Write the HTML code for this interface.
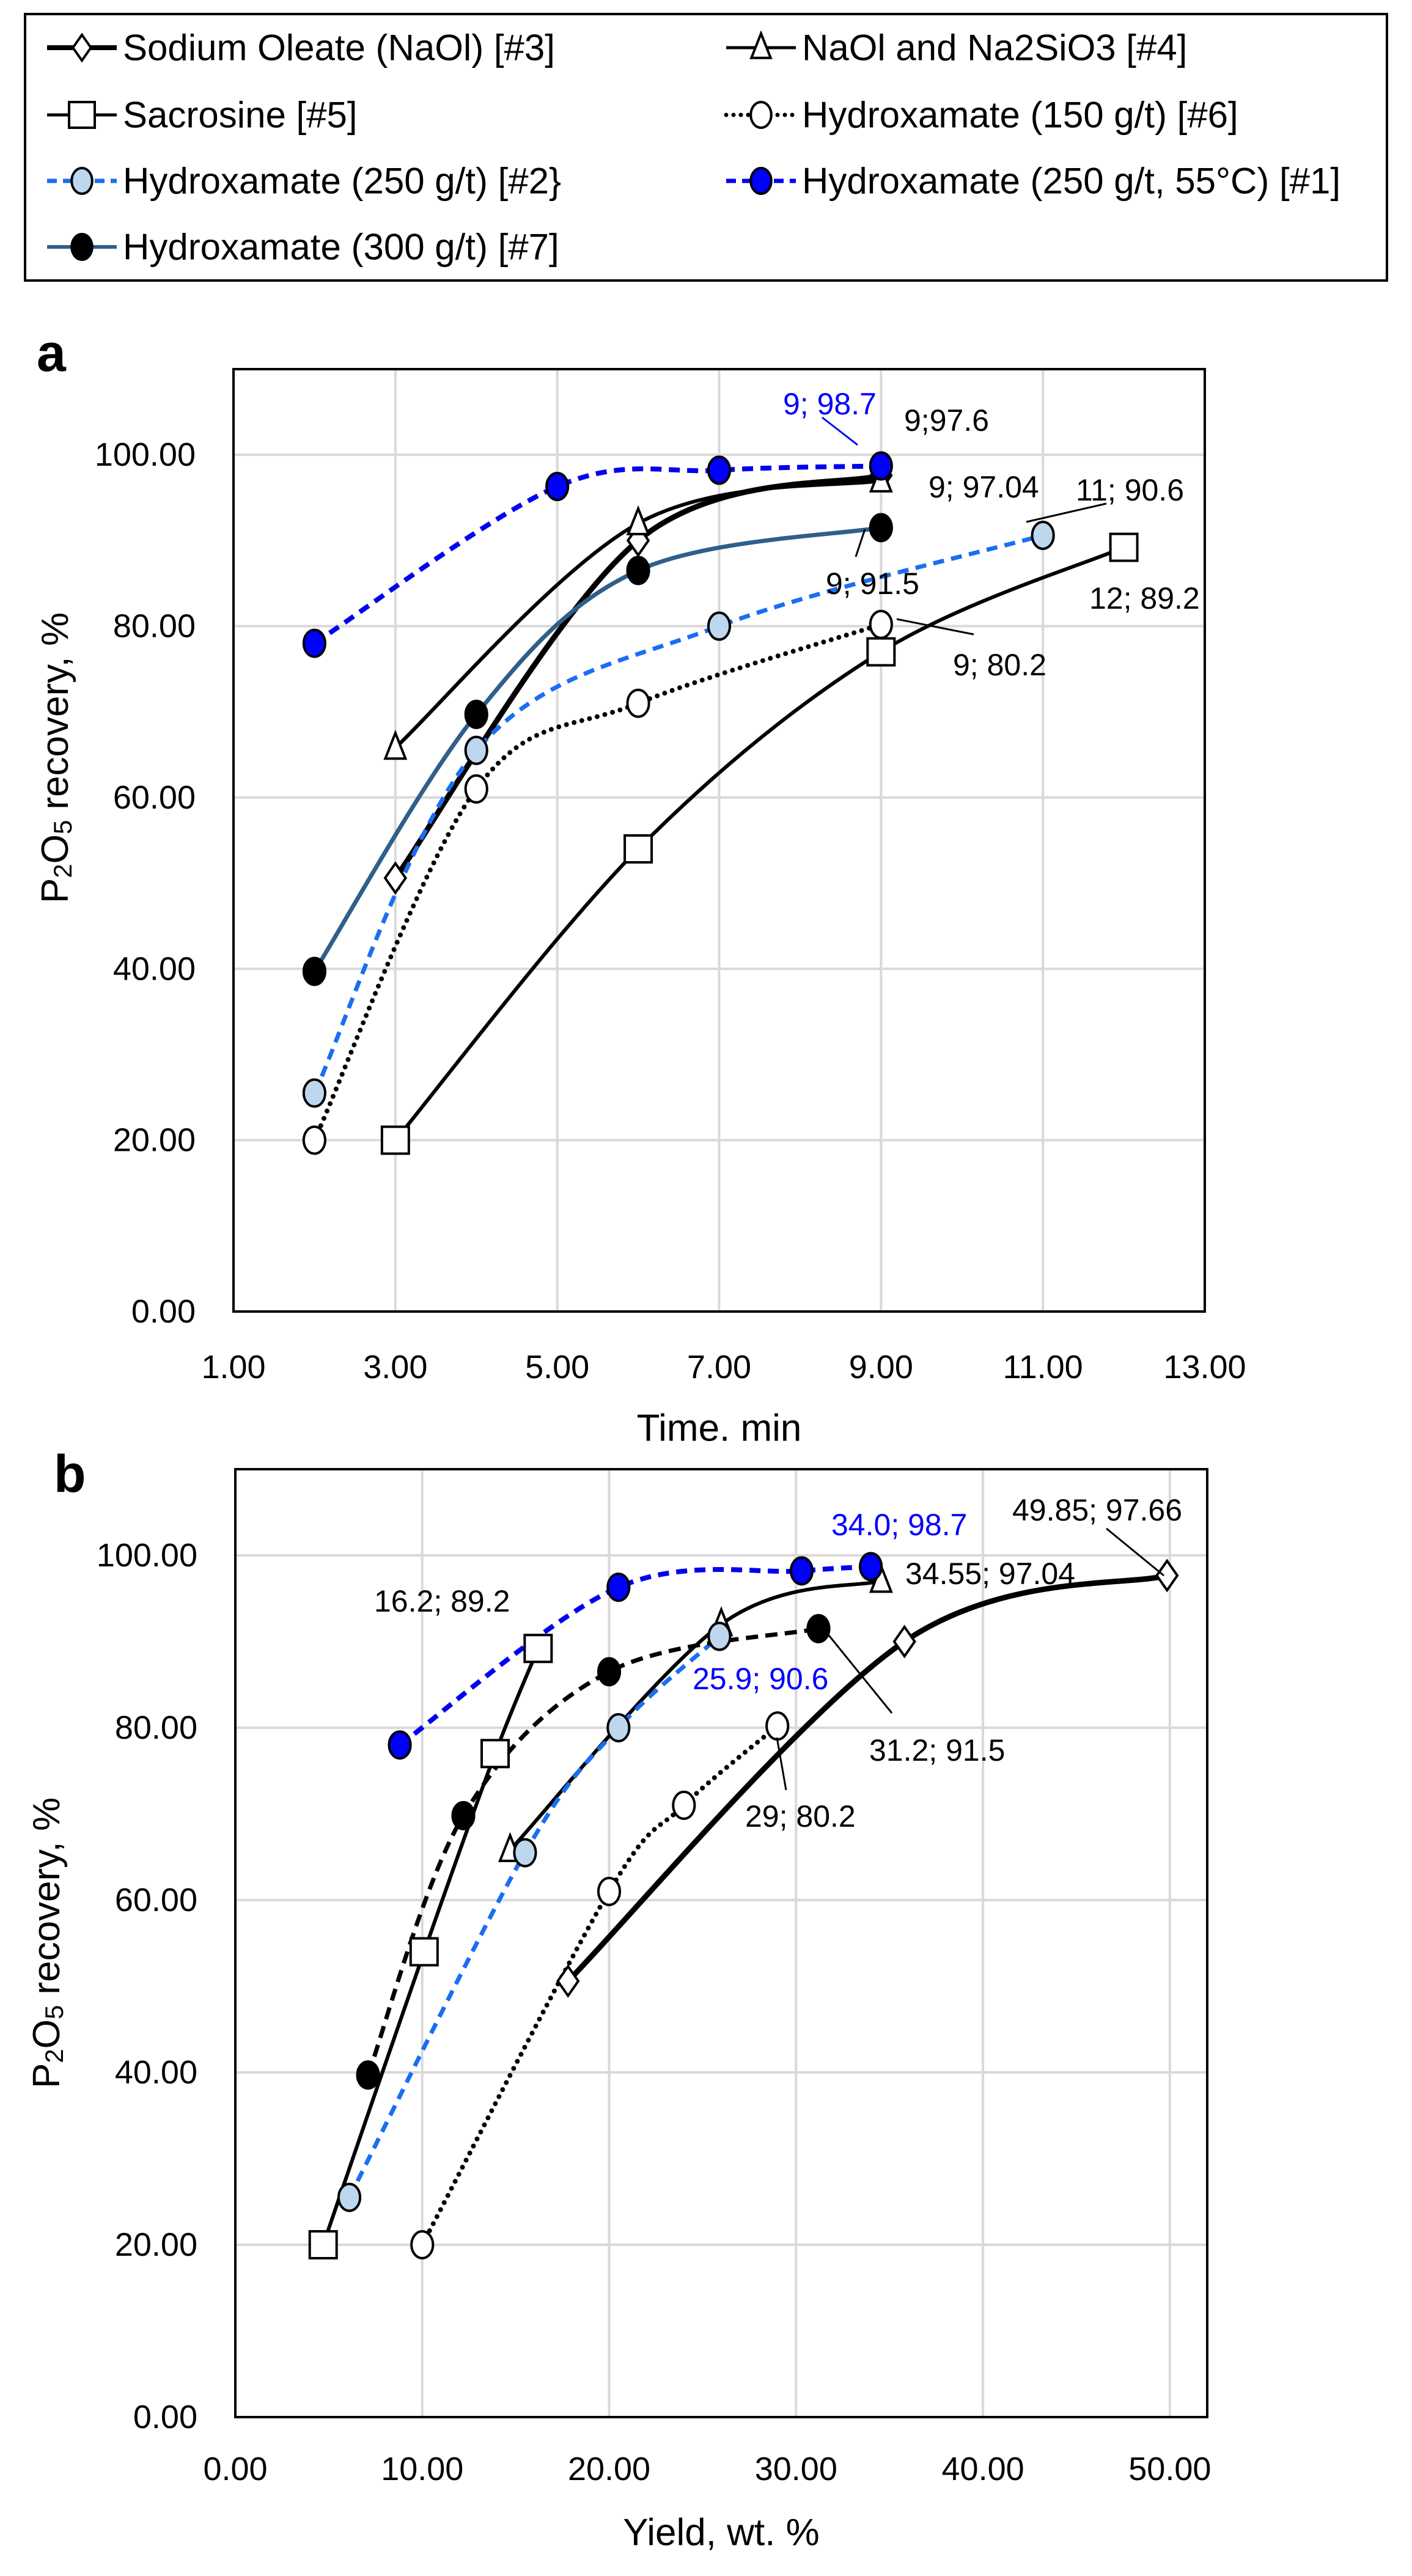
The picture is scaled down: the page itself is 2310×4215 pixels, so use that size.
<!DOCTYPE html>
<html><head><meta charset="utf-8"><style>
html,body{margin:0;padding:0;background:#fff;}
svg{display:block;font-family:"Liberation Sans",Arial,sans-serif;}
</style></head><body>
<svg id="root" width="2310" height="4215" viewBox="0 0 2310 4215" xmlns="http://www.w3.org/2000/svg">
<g id="legend">
<rect x="41" y="23" width="2228" height="436" fill="#fff" stroke="#000" stroke-width="4"/>
</g>
<g id="chartA"></g>
<g id="chartB"></g>
</svg>
<script>
// ---- Chart a data (time, min) ----
const aX3 = [3, 6, 9];            const aY3 = [50.6, 90.0, 97.6];
const aX4 = [3, 6, 9];            const aY4 = [65.8, 92.0, 97.0];
const aX5 = [3, 6, 9, 12];        const aY5 = [20.0, 54.0, 77.0, 89.2];
const aX6 = [2, 4, 6, 9];         const aY6 = [20.0, 61.0, 71.0, 80.2];
const aX2 = [2, 4, 7, 11];        const aY2 = [25.5, 65.5, 80.0, 90.6];
const aX1 = [2, 5, 7, 9];         const aY1 = [78.0, 96.3, 98.2, 98.7];
const aX7 = [2, 4, 6, 9];         const aY7 = [39.7, 69.7, 86.5, 91.5];
const aXTicks = [1, 3, 5, 7, 9, 11, 13];
const aXTickLabels = ["1.00","3.00","5.00","7.00","9.00","11.00","13.00"];
const yTicks = [0, 20, 40, 60, 80, 100];
const yTickLabels = ["0.00","20.00","40.00","60.00","80.00","100.00"];
// ---- Chart b data (yield, wt.%) ----
const bX1 = [8.8, 20.5, 30.3, 34.0];   const bY1 = [78.0, 96.3, 98.2, 98.7];
const bX7 = [7.1, 12.2, 20.0, 31.2];   const bY7 = [39.7, 69.8, 86.5, 91.5];
const bX5 = [4.7, 10.1, 13.9, 16.2];   const bY5 = [20.0, 54.0, 77.0, 89.2];
const bX2 = [6.1, 15.5, 20.5, 25.9];   const bY2 = [25.5, 65.5, 80.0, 90.6];
const bX4 = [14.7, 26.0, 34.55];       const bY4 = [65.8, 92.0, 97.04];
const bX6 = [10.0, 20.0, 24.0, 29.0];  const bY6 = [20.0, 61.0, 71.0, 80.2];
const bX3 = [17.8, 35.8, 49.85];       const bY3 = [50.6, 90.0, 97.66];
const bXTicks = [0, 10, 20, 30, 40, 50];
const bXTickLabels = ["0.00","10.00","20.00","30.00","40.00","50.00"];

const NS = "http://www.w3.org/2000/svg";
function mk(parent, tag, attrs){
  const e = document.createElementNS(NS, tag);
  for (const k in attrs) e.setAttribute(k, attrs[k]);
  parent.appendChild(e); return e;
}
function smoothPath(pts){
  if (pts.length < 2) return "";
  let d = "M" + pts[0][0] + "," + pts[0][1];
  for (let i = 0; i < pts.length - 1; i++){
    const p0 = pts[Math.max(i-1,0)], p1 = pts[i], p2 = pts[i+1], p3 = pts[Math.min(i+2,pts.length-1)];
    const t = 1/6;
    const c1 = [p1[0] + (p2[0]-p0[0])*t, p1[1] + (p2[1]-p0[1])*t];
    const c2 = [p2[0] - (p3[0]-p1[0])*t, p2[1] - (p3[1]-p1[1])*t];
    d += " C" + c1[0] + "," + c1[1] + " " + c2[0] + "," + c2[1] + " " + p2[0] + "," + p2[1];
  }
  return d;
}
function marker(g, type, x, y, fill, r){
  let e;
  if (type === "circle") e = mk(g, "ellipse", {cx:x, cy:y, rx:r*0.8, ry:r, fill:fill, stroke:"#000", "stroke-width":4});
  else if (type === "square") e = mk(g, "rect", {x:x-r, y:y-r, width:2*r, height:2*r, fill:"#fff", stroke:"#000", "stroke-width":4});
  else if (type === "diamond") e = mk(g, "polygon", {points:`${x},${y-r} ${x+r*0.7},${y} ${x},${y+r} ${x-r*0.7},${y}`, fill:"#fff", stroke:"#000", "stroke-width":4});
  else e = mk(g, "polygon", {points:`${x},${y-r*1.1} ${x+r*0.75},${y+r*0.8} ${x-r*0.75},${y+r*0.8}`, fill:"#fff", stroke:"#000", "stroke-width":4});
  return e;
}
function text(g, x, y, s, opts){
  const e = mk(g, "text", Object.assign({x:x, y:y, "font-size":50, fill:"#000", "dominant-baseline":"central"}, opts||{}));
  e.textContent = s; return e;
}

// ---- Legend ----
const legend = document.getElementById("legend");
const legItems = [
  ["Sodium Oleate (NaOl) [#3]", 77, 78, "diamond", "#fff", "#000", "", 8],
  ["NaOl and Na2SiO3 [#4]", 1188, 78, "triangle", "#fff", "#000", "", 5],
  ["Sacrosine [#5]", 77, 188, "square", "#fff", "#000", "", 5],
  ["Hydroxamate (150 g/t) [#6]", 1188, 188, "circle", "#fff", "#000", "0 12", 7],
  ["Hydroxamate (250 g/t) [#2}", 77, 296, "circle", "#bdd7ee", "#1a6ef0", "16 10", 7],
  ["Hydroxamate (250 g/t, 55°C) [#1]", 1188, 296, "circle", "#0000ff", "#0000ee", "16 10", 7],
  ["Hydroxamate (300 g/t) [#7]", 77, 404, "circle", "#000", "#2f5f8a", "", 6]
];
legItems.forEach(it => {
  const g = mk(legend, "g", {});
  
  
  mk(g, "line", {x1:it[1], y1:it[2], x2:it[1]+114, y2:it[2], stroke:it[5], "stroke-width":it[7], "stroke-dasharray":it[6], "stroke-linecap":it[6]==="0 12"?"round":"butt"});
  marker(g, it[3], it[1]+57, it[2], it[4], 21);
  text(g, it[1]+124, it[2], it[0], {"font-size":60});
});

function buildChart(id, cfg){
  const root = document.getElementById(id);
  const sx = v => cfg.x0 + (v - cfg.xmin) / (cfg.xmax - cfg.xmin) * (cfg.x1 - cfg.x0);
  const sy = v => cfg.y0 - (v - 0) / 110 * (cfg.y0 - cfg.y1);
  const grid = mk(root, "g", {});
  
  
  cfg.xTicks.forEach((t,i) => {
    mk(grid, "line", {x1:sx(t), y1:cfg.y1, x2:sx(t), y2:cfg.y0, stroke:"#d9d9d9", "stroke-width":4});
    const l = text(root, sx(t), cfg.xLabelY, cfg.xLabels[i], {"text-anchor":"middle", "font-size":54});
    
    
  });
  yTicks.forEach((t,i) => {
    mk(grid, "line", {x1:cfg.x0, y1:sy(t), x2:cfg.x1, y2:sy(t), stroke:"#d9d9d9", "stroke-width":4});
    const l = text(root, cfg.x0 - 62, sy(t), yTickLabels[i], {"text-anchor":"end", "font-size":54});
    
    
  });
  const frame = mk(root, "rect", {x:cfg.x0, y:cfg.y1, width:cfg.x1-cfg.x0, height:cfg.y0-cfg.y1, fill:"none", stroke:"#000", "stroke-width":4});
  
  
  cfg.series.forEach(s => {
    const g = mk(root, "g", {});
    
    
    const pts = s.xs.map((x,i) => [sx(x), sy(s.ys[i])]);
    mk(g, "path", {d:smoothPath(pts), fill:"none", stroke:s.color, "stroke-width":s.w, "stroke-dasharray":s.dash||"", "stroke-linecap":s.dash==="0 13"?"round":"butt"});
  });
  cfg.series.forEach(s => {
    const g = mk(root, "g", {});
    
    
    s.xs.forEach((x,i) => {
      const m = marker(g, s.marker, sx(x), sy(s.ys[i]), s.fill, s.marker==="diamond"?24:22);
      
      
    });
  });
  cfg.notes.forEach(n => {
    const t = text(root, n[0], n[1], n[2], {fill:n[3]||"#000", "font-size":50});
    
    
  });
  cfg.leaders.forEach(l => {
    const e = mk(root, "line", {x1:l[0], y1:l[1], x2:l[2], y2:l[3], stroke:l[4]||"#000", "stroke-width":3});
    
    
  });
  const pl = text(root, cfg.panelX, cfg.panelY, cfg.panel, {"font-size":86, "font-weight":"bold"});
  
  
  const xt = text(root, (cfg.x0+cfg.x1)/2, cfg.xTitleY, cfg.xTitle, {"text-anchor":"middle", "font-size":62});
  
  
  const yt = mk(root, "text", {x:0, y:0, "font-size":62, "text-anchor":"middle", "dominant-baseline":"central", transform:`translate(${cfg.yTitleX},${cfg.yTitleY}) rotate(-90)`});
  yt.innerHTML = 'P<tspan font-size="42" dy="12">2</tspan><tspan dy="-12">O</tspan><tspan font-size="42" dy="12">5</tspan><tspan dy="-12"> recovery, %</tspan>';
  
  
}

buildChart("chartA", {
  x0:382, x1:1971, xmin:1, xmax:13, y0:2146, y1:604,
  xTicks:aXTicks, xLabels:aXTickLabels, xLabelY:2237, xTitle:"Time. min", xTitleY:2337,
  yTitleX:90, yTitleY:1240, panel:"a", panelX:60, panelY:578,
  series:[
    {name:"series-3-naol", xs:aX3, ys:aY3, color:"#000", w:9, marker:"diamond", fill:"#fff"},
    {name:"series-4-naol-silicate", xs:aX4, ys:aY4, color:"#000", w:6, marker:"triangle", fill:"#fff"},
    {name:"series-5-sacrosine", xs:aX5, ys:aY5, color:"#000", w:6, marker:"square", fill:"#fff"},
    {name:"series-6-hydroxamate-150", xs:aX6, ys:aY6, color:"#000", w:8, dash:"0 13", marker:"circle", fill:"#fff"},
    {name:"series-2-hydroxamate-250", xs:aX2, ys:aY2, color:"#1a6ef0", w:7, dash:"18 12", marker:"circle", fill:"#bdd7ee"},
    {name:"series-7-hydroxamate-300", xs:aX7, ys:aY7, color:"#2f5f8a", w:7, marker:"circle", fill:"#000"},
    {name:"series-1-hydroxamate-250-55c", xs:aX1, ys:aY1, color:"#0000ee", w:8, dash:"18 12", marker:"circle", fill:"#0000ff"}
  ],
  notes:[[1281,661,"9; 98.7","#0000ff"],[1479,688,"9;97.6"],[1519,797,"9; 97.04"],[1760,802,"11; 90.6"],
         [1351,955,"9; 91.5"],[1782,979,"12; 89.2"],[1559,1088,"9; 80.2"]],
  leaders:[[1345,683,1403,728,"#0000ff"],[1679,854,1810,824],[1400,911,1415,866],[1467,1013,1593,1038]]
});
buildChart("chartB", {
  x0:385, x1:1975, xmin:0, xmax:52, y0:3955, y1:2404,
  xTicks:bXTicks, xLabels:bXTickLabels, xLabelY:4040, xTitle:"Yield, wt. %", xTitleY:4144,
  yTitleX:76, yTitleY:3179, panel:"b", panelX:88, panelY:2412,
  series:[
    {name:"series-3-naol", xs:bX3, ys:bY3, color:"#000", w:9, marker:"diamond", fill:"#fff"},
    {name:"series-4-naol-silicate", xs:bX4, ys:bY4, color:"#000", w:6, marker:"triangle", fill:"#fff"},
    {name:"series-5-sacrosine", xs:bX5, ys:bY5, color:"#000", w:6, marker:"square", fill:"#fff"},
    {name:"series-6-hydroxamate-150", xs:bX6, ys:bY6, color:"#000", w:8, dash:"0 13", marker:"circle", fill:"#fff"},
    {name:"series-2-hydroxamate-250", xs:bX2, ys:bY2, color:"#1a6ef0", w:7, dash:"18 12", marker:"circle", fill:"#bdd7ee"},
    {name:"series-7-hydroxamate-300", xs:bX7, ys:bY7, color:"#000", w:7, dash:"20 12", marker:"circle", fill:"#000"},
    {name:"series-1-hydroxamate-250-55c", xs:bX1, ys:bY1, color:"#0000ee", w:8, dash:"18 12", marker:"circle", fill:"#0000ff"}
  ],
  notes:[[1360,2495,"34.0; 98.7","#0000ff"],[1656,2471,"49.85; 97.66"],[1481,2575,"34.55; 97.04"],[612,2620,"16.2; 89.2"],
         [1133,2747,"25.9; 90.6","#0000ff"],[1422,2864,"31.2; 91.5"],[1219,2972,"29; 80.2"]],
  leaders:[[1810,2501,1904,2578],[1348,2666,1459,2803],[1271,2843,1286,2929]]
});
</script>
</body></html>
